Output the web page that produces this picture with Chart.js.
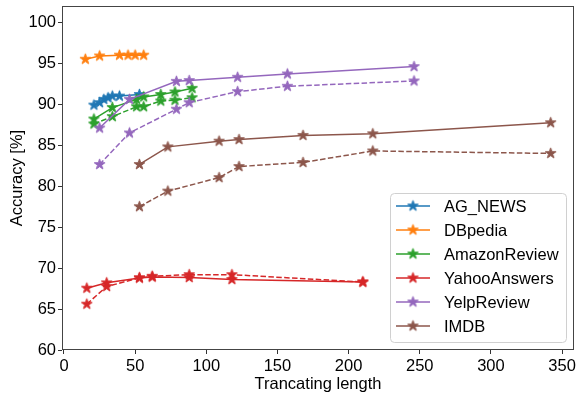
<!DOCTYPE html>
<html>
<head>
<meta charset="utf-8">
<script src="https://cdn.jsdelivr.net/npm/chart.js@4.4.1/dist/chart.umd.min.js"></script>
<style>
  html, body { margin: 0; padding: 0; background: #fff; }
  #wrap { width: 576px; height: 397px; }
</style>
</head>
<body>
<div id="wrap"><canvas id="chart" width="576" height="397"></canvas></div>
<script>
// truncating length (x) and accuracy (y) per dataset, solid = first run, dashed = second run
const agX = [21, 25, 28, 31, 34, 39, 53];
const agY = [89.9, 90.2, 90.6, 90.8, 91.0, 91.0, 91.2];

const dbX = [15, 25, 39, 45, 50, 56];
const dbY = [95.5, 95.9, 96.0, 96.0, 96.0, 96.0];

const amzX = [21, 34, 51, 56, 68, 78, 90];
const amzY = [88.2, 89.6, 90.6, 90.9, 91.2, 91.5, 91.95];
const amzDashY = [87.6, 88.5, 89.7, 89.7, 90.4, 90.5, 90.8];

const yahooX = [16, 30, 53, 62, 88, 118, 210];
const yahooY = [67.55, 68.2, 68.8, 68.9, 68.85, 68.6, 68.3];
const yahooDashY = [65.6, 67.75, 68.8, 69.0, 69.2, 69.2, 68.3];

const yelpX = [25, 46, 79, 88, 122, 157, 246];
const yelpY = [87.1, 90.6, 92.8, 92.9, 93.3, 93.7, 94.6];
const yelpDashY = [82.65, 86.5, 89.4, 90.2, 91.55, 92.2, 92.85];

const imdbX = [53, 73, 109, 123, 168, 217, 342];
const imdbY = [82.65, 84.8, 85.5, 85.7, 86.2, 86.4, 87.75];
const imdbDashY = [77.5, 79.4, 81.05, 82.4, 82.9, 84.3, 84.0];

const xTicksStep = 50;
const yTicksStep = 5;

//색상 - matplotlib tab10
const colors = {
    blue: '#1f77b4',
    orange: '#ff7f0e',
    green: '#2ca02c',
    red: '#d62728',
    purple: '#9467bd',
    brown: '#8c564b'
};

const FONT = 'Liberation Sans, Arial, sans-serif';

//marker - 채워진 별 모양
function starImage(color, r) {
    const size = Math.ceil(r) * 2 + 3;
    const c = document.createElement('canvas');
    c.width = c.height = size;
    const ctx = c.getContext('2d');
    const cx = size / 2, cy = size / 2, ri = r * 0.381966;
    ctx.beginPath();
    for (let k = 0; k < 10; k++) {
        const a = -Math.PI / 2 + k * Math.PI / 5;
        const rr = k % 2 ? ri : r;
        ctx.lineTo(cx + rr * Math.cos(a), cy + rr * Math.sin(a));
    }
    ctx.closePath();
    ctx.fillStyle = color;
    ctx.fill();
    ctx.strokeStyle = color;
    ctx.lineWidth = 1;
    ctx.lineJoin = 'miter';
    ctx.stroke();
    return c;
}

function pts(xs, ys) {
    return xs.map((x, i) => ({x, y: ys[i]}));
}

function series(label, color, xs, ys, dashed) {
    return {
        label,
        data: pts(xs, ys),
        borderColor: color,
        backgroundColor: color,
        borderWidth: 1.5,
        borderDash: dashed ? [5.5, 2.4] : [],
        pointStyle: starImage(color, 5.6),
        pointRadius: 6,
        tension: 0,
        fill: false,
        _legend: !dashed
    };
}

const datasets = [
    series('AG_NEWS', colors.blue, agX, agY, false),
    series('DBpedia', colors.orange, dbX, dbY, false),
    series('AmazonReview', colors.green, amzX, amzY, false),
    series('', colors.green, amzX, amzDashY, true),
    series('YahooAnswers', colors.red, yahooX, yahooY, false),
    series('', colors.red, yahooX, yahooDashY, true),
    series('YelpReview', colors.purple, yelpX, yelpY, false),
    series('', colors.purple, yelpX, yelpDashY, true),
    series('IMDB', colors.brown, imdbX, imdbY, false),
    series('', colors.brown, imdbX, imdbDashY, true)
].map((ds, i) => ({...ds, order: -i})); //뒤 데이터가 위에 그려지도록

//frame - 4면 테두리
const framePlugin = {
    id: 'frame',
    afterDatasetsDraw(chart) {
        const {ctx, chartArea: a} = chart;
        ctx.save();
        ctx.strokeStyle = '#444';
        ctx.lineWidth = 1;
        ctx.strokeRect(Math.round(a.left) + 0.5, Math.round(a.top) + 0.5,
            Math.round(a.right - a.left) - 1, Math.round(a.bottom - a.top) - 1);
        ctx.restore();
    }
};

//legend - 차트 안 우측 하단 박스
const legendPlugin = {
    id: 'boxLegend',
    afterDraw(chart) {
        const {ctx} = chart;
        const items = chart.data.datasets.filter(ds => ds._legend);
        const x0 = 390.5, y0 = 193.5, w = 176, rowH = 24;
        const h = items.length * rowH + 5;
        ctx.save();
        ctx.beginPath();
        ctx.roundRect(x0, y0, w, h, 4);
        ctx.fillStyle = 'rgba(255,255,255,0.8)';
        ctx.fill();
        ctx.strokeStyle = '#d0d0d0';
        ctx.lineWidth = 1;
        ctx.stroke();
        ctx.font = '16.5px ' + FONT;
        ctx.textBaseline = 'middle';
        ctx.fillStyle = '#000';
        items.forEach((ds, i) => {
            const cy = 206 + i * rowH;
            ctx.beginPath();
            ctx.moveTo(396, cy);
            ctx.lineTo(430, cy);
            ctx.strokeStyle = ds.borderColor;
            ctx.lineWidth = 1.5;
            ctx.stroke();
            const img = ds.pointStyle;
            ctx.drawImage(img, 413 - img.width / 2, cy - img.height / 2);
            ctx.fillStyle = '#000';
            ctx.fillText(ds.label, 444, cy + 1);
        });
        ctx.restore();
    }
};

new Chart(document.getElementById('chart'), {
    type: 'line',
    data: {datasets},
    options: {
        responsive: false,
        animation: false,
        layout: {autoPadding: false, padding: {top: 6, right: 2, left: 0, bottom: 0}},
        plugins: {
            legend: {display: false},
            tooltip: {enabled: false}
        },
        scales: {
            x: {
                type: 'linear',
                min: -1.4,
                max: 358.4,
                afterFit(scale) {
                    scale.height = 47;
                    scale.paddingLeft = 0;
                    scale.paddingRight = 0;
                },
                ticks: {
                    stepSize: xTicksStep,
                    includeBounds: false,
                    color: '#000',
                    padding: 3,
                    maxRotation: 0,
                    font: {family: FONT, size: 16.5}
                },
                grid: {drawOnChartArea: false, drawTicks: true, tickLength: 4, color: '#333'},
                border: {display: false},
                title: {
                    display: true,
                    text: 'Trancating length',
                    color: '#000',
                    font: {family: FONT, size: 16.5},
                    padding: {top: 0, bottom: 3}
                }
            },
            y: {
                min: 60,
                max: 102,
                afterFit(scale) {
                    scale.width = 62;
                    scale.paddingTop = 0;
                    scale.paddingBottom = 0;
                },
                ticks: {
                    stepSize: yTicksStep,
                    includeBounds: false,
                    color: '#000',
                    padding: 2,
                    font: {family: FONT, size: 16.5}
                },
                grid: {drawOnChartArea: false, drawTicks: true, tickLength: 4, color: '#333'},
                border: {display: false},
                title: {
                    display: true,
                    text: 'Accuracy [%]',
                    color: '#000',
                    font: {family: FONT, size: 16.5},
                    padding: {top: 8, bottom: 0}
                }
            }
        }
    },
    plugins: [framePlugin, legendPlugin]
});
</script>
</body>
</html>
